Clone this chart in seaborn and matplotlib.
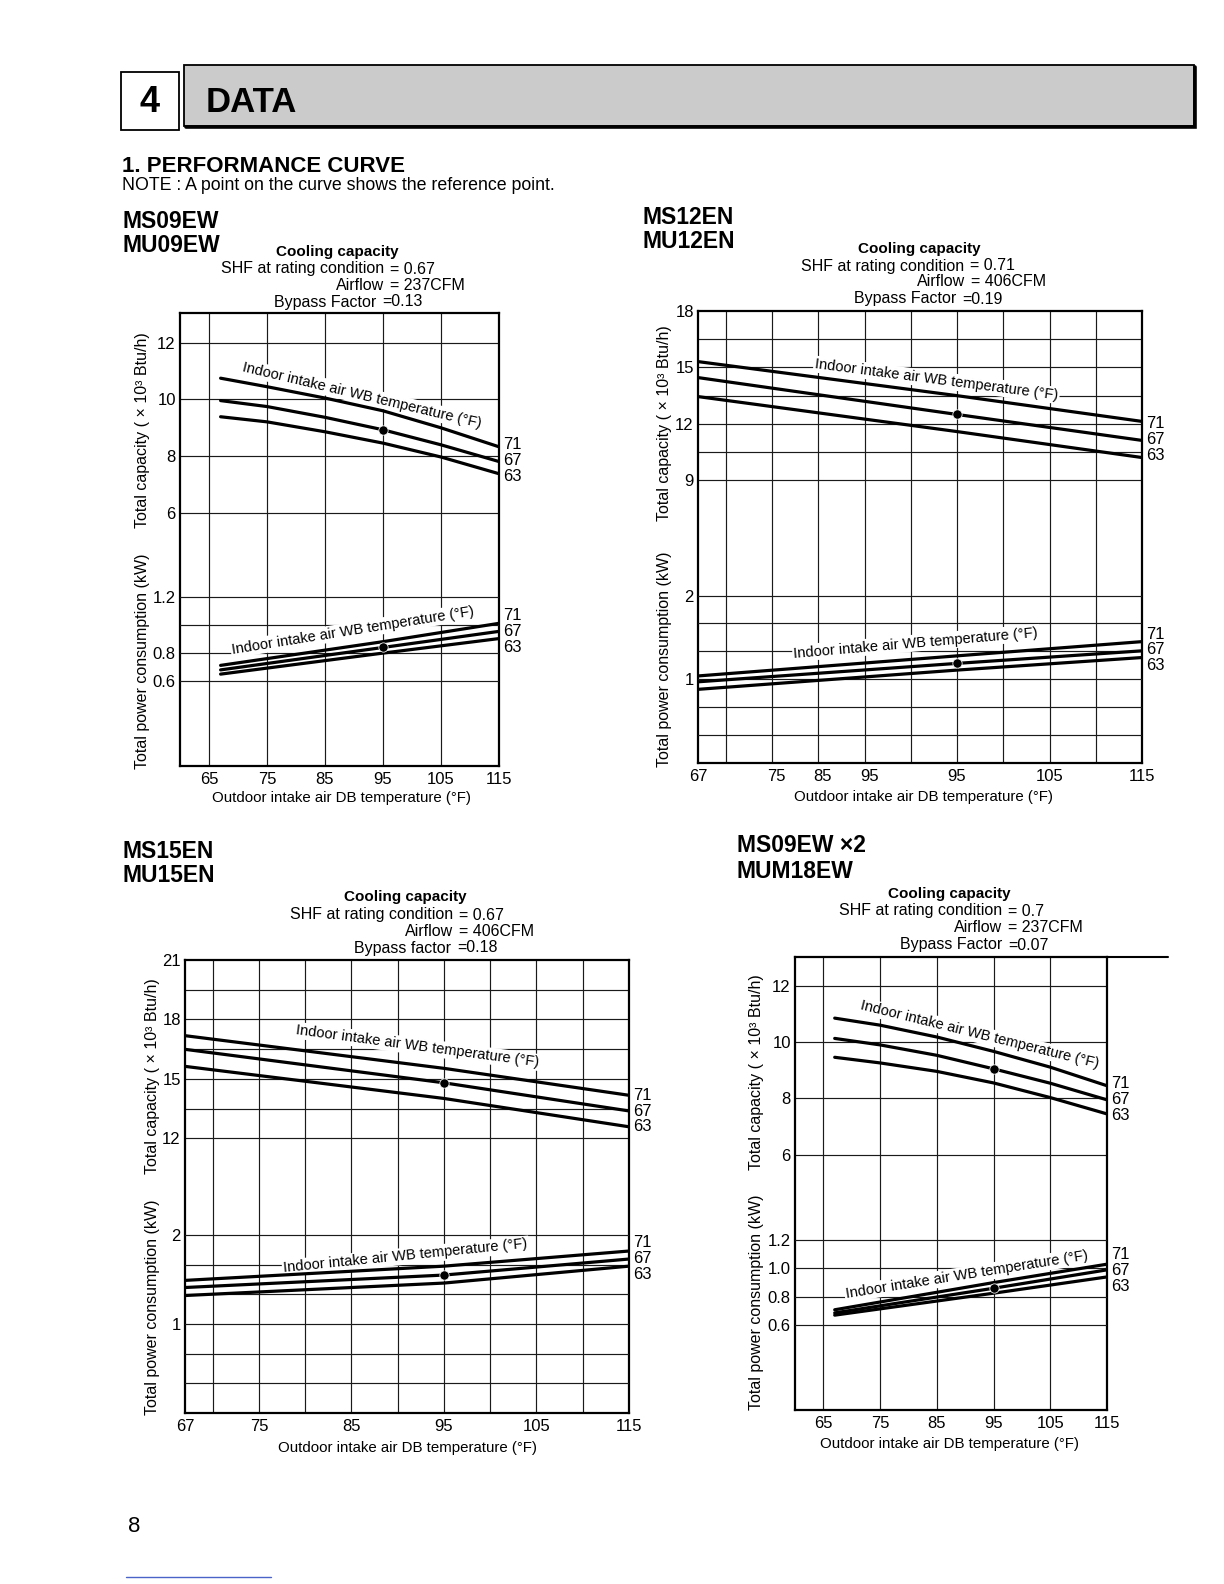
import numpy as np
import pandas as pd
import matplotlib
matplotlib.use("Agg")
import matplotlib.pyplot as plt
import matplotlib.transforms as mtransforms
from matplotlib.patches import Rectangle
import seaborn as sns

# ── Data ───────────────────────────────────────────────
WB = [71, 67, 63]          # indoor intake air WB temperature (°F)
REF_T = 95                 # reference point sits on the 67°F curve at 95°F

# MS09EW / MU09EW
C1_T_CAP = [67, 75, 85, 95, 105, 115]
C1_CAP_71 = [10.75, 10.45, 10.05, 9.60, 9.00, 8.33]
C1_CAP_67 = [9.96, 9.75, 9.37, 8.93, 8.40, 7.81]
C1_CAP_63 = [9.39, 9.21, 8.86, 8.46, 7.97, 7.38]
C1_T_PWR = [67, 95, 115]
C1_PWR_71 = [0.713, 0.881, 1.011]
C1_PWR_67 = [0.681, 0.840, 0.954]
C1_PWR_63 = [0.651, 0.800, 0.903]

# MS12EN / MU12EN
C2_T = [67, 95, 115]
C2_CAP_71 = [15.31, 13.50, 12.13]
C2_CAP_67 = [14.46, 12.50, 11.12]
C2_CAP_63 = [13.45, 11.59, 10.21]
C2_PWR_71 = [1.04, 1.28, 1.45]
C2_PWR_67 = [0.97, 1.19, 1.34]
C2_PWR_63 = [0.88, 1.11, 1.26]

# MS15EN / MU15EN
C3_T = [67, 95, 115]
C3_CAP_71 = [17.18, 15.53, 14.17]
C3_CAP_67 = [16.49, 14.80, 13.38]
C3_CAP_63 = [15.63, 14.01, 12.58]
C3_PWR_71 = [1.49, 1.65, 1.82]
C3_PWR_67 = [1.41, 1.55, 1.73]
C3_PWR_63 = [1.32, 1.46, 1.65]

# MS09EW x2 / MUM18EW
C4_T_CAP = [67, 75, 85, 95, 105, 115]
C4_CAP_71 = [10.85, 10.60, 10.18, 9.67, 9.11, 8.45]
C4_CAP_67 = [10.13, 9.90, 9.53, 9.05, 8.54, 7.95]
C4_CAP_63 = [9.46, 9.26, 8.96, 8.55, 8.03, 7.45]
C4_T_PWR = [67, 95, 115]
C4_PWR_71 = [0.708, 0.900, 1.030]
C4_PWR_67 = [0.686, 0.860, 0.990]
C4_PWR_63 = [0.670, 0.825, 0.940]

# ── Grids and tick labels ──────────────────────────────
GRID_X_WIDE = [65, 75, 85, 95, 105]
GRID_X_FINE = [70, 75, 80, 85, 90, 95, 100, 105, 110]
C1_XTICKS = [65, 75, 85, 95, 105, 115]
C2_XTICKS = [67, 75.5, 80.5, 85.5, 95, 105, 115]
C2_XTICKLABELS = ["67", "75", "85", "95", "95", "105", "115"]   # as printed
C3_XTICKS = [67, 75, 85, 95, 105, 115]
CAP_GRID_SMALL = [6, 8, 10, 12]
CAP_TICKS_SMALL = [6, 8, 10, 12]
PWR_GRID_SMALL = [0.6, 0.8, 1.0, 1.2]
C1_PWR_TICKS = [0.6, 0.8, 1.2]
C4_PWR_TICKS = [0.6, 0.8, 1.0, 1.2]
C2_CAP_GRID = [9, 10.5, 12, 13.5, 15, 16.5]
C2_CAP_TICKS = [9, 12, 15, 18]
C3_CAP_GRID = [12, 13.5, 15, 16.5, 18, 19.5]
C3_CAP_TICKS = [12, 15, 18, 21]
PWR_GRID_THIRDS = [1 / 3, 2 / 3, 1, 4 / 3, 5 / 3, 2]
PWR_TICKS_INT = [1, 2]

C1_RATING = [("SHF at rating condition", "= 0.67"), ("Airflow", "= 237CFM"), ("Bypass Factor", "=0.13")]
C2_RATING = [("SHF at rating condition", "= 0.71"), ("Airflow", "= 406CFM"), ("Bypass Factor", "=0.19")]
C3_RATING = [("SHF at rating condition", "= 0.67"), ("Airflow", "= 406CFM"), ("Bypass factor", "=0.18")]
C4_RATING = [("SHF at rating condition", "= 0.7"), ("Airflow", "= 237CFM"), ("Bypass Factor", "=0.07")]

WB_LABEL = "Indoor intake air WB temperature (°F)"
CAP_LABEL = "Total capacity ( × 10³ Btu/h)"
PWR_LABEL = "Total power consumption (kW)"
X_LABEL = "Outdoor intake air DB temperature (°F)"

# ── Page layout (pixels on a 1224 x 1584 page) ─────────
W, H = 1224, 1584
CHARTS = [
    dict(models=["MS09EW", "MU09EW"], model_xy=(123, 221), cool_xy=(337, 252),
         rating=C1_RATING, eq_x=[390, 390, 382], rating_y=[269, 286, 302],
         box=(180, 313, 499, 766), xlim=(60, 115), cap_lim=(-2.93, 13.05), pwr_lim=(0, 3.21),
         t_cap=C1_T_CAP, cap=[C1_CAP_71, C1_CAP_67, C1_CAP_63],
         t_pwr=C1_T_PWR, pwr=[C1_PWR_71, C1_PWR_67, C1_PWR_63],
         xgrid=GRID_X_WIDE, cap_grid=CAP_GRID_SMALL, pwr_grid=PWR_GRID_SMALL,
         xticks=C1_XTICKS, xticklabels=[str(v) for v in C1_XTICKS],
         cap_ticks=CAP_TICKS_SMALL, pwr_ticks=C1_PWR_TICKS, pwr_fmt="{:.1f}",
         cap_text=((70.7, 11.0), (111.8, 9.0)), pwr_text=((69.1, 0.795), (110.2, 1.065)),
         ylab_x=142, ylab_cap=430, ylab_pwr=661, xlab=(342, 798)),
    dict(models=["MS12EN", "MU12EN"], model_xy=(643, 217), cool_xy=(919, 249),
         rating=C2_RATING, eq_x=[970, 971, 962], rating_y=[266, 282, 299],
         box=(698, 311, 1142, 763), xlim=(67, 115), cap_lim=(-6.03, 18), pwr_lim=(0, 5.4),
         t_cap=C2_T, cap=[C2_CAP_71, C2_CAP_67, C2_CAP_63],
         t_pwr=C2_T, pwr=[C2_PWR_71, C2_PWR_67, C2_PWR_63],
         xgrid=GRID_X_FINE, cap_grid=C2_CAP_GRID, pwr_grid=PWR_GRID_THIRDS,
         xticks=C2_XTICKS, xticklabels=C2_XTICKLABELS,
         cap_ticks=C2_CAP_TICKS, pwr_ticks=PWR_TICKS_INT, pwr_fmt="{:.0f}",
         cap_text=((79.6, 14.97), (105.6, 13.31)), pwr_text=((77.4, 1.26), (103.6, 1.51)),
         ylab_x=665, ylab_cap=423, ylab_pwr=659, xlab=(924, 797)),
    dict(models=["MS15EN", "MU15EN"], model_xy=(123, 851), cool_xy=(405, 897),
         rating=C3_RATING, eq_x=[459, 459, 457], rating_y=[915, 931, 948],
         box=(185, 960, 629, 1413), xlim=(67, 115), cap_lim=(-1.87, 21), pwr_lim=(0, 5.09),
         t_cap=C3_T, cap=[C3_CAP_71, C3_CAP_67, C3_CAP_63],
         t_pwr=C3_T, pwr=[C3_PWR_71, C3_PWR_67, C3_PWR_63],
         xgrid=GRID_X_FINE, cap_grid=C3_CAP_GRID, pwr_grid=PWR_GRID_THIRDS,
         xticks=C3_XTICKS, xticklabels=[str(v) for v in C3_XTICKS],
         cap_ticks=C3_CAP_TICKS, pwr_ticks=PWR_TICKS_INT, pwr_fmt="{:.0f}",
         cap_text=((78.9, 17.26), (104.9, 15.64)), pwr_text=((77.7, 1.58), (103.7, 1.85)),
         ylab_x=153, ylab_cap=1076, ylab_pwr=1307, xlab=(408, 1448)),
    dict(models=["MS09EW ×2", "MUM18EW"], model_xy=(737, 846), cool_xy=(949, 894),
         rating=C4_RATING, eq_x=[1008, 1008, 1008], rating_y=[911, 927, 945],
         box=(795, 957, 1107, 1410), xlim=(60, 115), cap_lim=(-3.06, 13.02), pwr_lim=(0, 3.2),
         t_cap=C4_T_CAP, cap=[C4_CAP_71, C4_CAP_67, C4_CAP_63],
         t_pwr=C4_T_PWR, pwr=[C4_PWR_71, C4_PWR_67, C4_PWR_63],
         xgrid=GRID_X_WIDE, cap_grid=CAP_GRID_SMALL, pwr_grid=PWR_GRID_SMALL,
         xticks=C1_XTICKS, xticklabels=[str(v) for v in C1_XTICKS],
         cap_ticks=CAP_TICKS_SMALL, pwr_ticks=C4_PWR_TICKS, pwr_fmt="{:.1f}",
         cap_text=((71.45, 11.16), (112.6, 9.11)), pwr_text=((69.1, 0.79), (110.7, 1.056)),
         ylab_x=757, ylab_cap=1072, ylab_pwr=1302, xlab=(949, 1444)),
]

GRID_COLOR = "#1a1a1a"
CURVE_LW = 2.3
TICK_FS = 12

sns.set_style("white")
plt.rcParams["font.family"] = ["Liberation Sans", "DejaVu Sans"]
plt.rcParams["text.color"] = "black"
plt.rcParams["xtick.color"] = "black"
plt.rcParams["ytick.color"] = "black"
plt.rcParams["axes.labelcolor"] = "black"


def px_rect(x0, y0, x1, y1):
    return [x0 / W, 1 - y1 / H, (x1 - x0) / W, (y1 - y0) / H]


def curve_frame(t, series):
    rows = []
    for wb, vals in zip(WB, series):
        for tt, v in zip(t, vals):
            rows.append({"T": tt, "val": v, "wb": wb})
    return pd.DataFrame(rows)


def angle_on(axis, p0, p1):
    a = axis.transData.transform(p0)
    b = axis.transData.transform(p1)
    return np.degrees(np.arctan2(b[1] - a[1], b[0] - a[0]))


fig = plt.figure(figsize=(W / 100, H / 100), dpi=100)
fig.patch.set_facecolor("white")

# page canvas in pixel coordinates
pg = fig.add_axes([0, 0, 1, 1])
pg.set_xlim(0, W)
pg.set_ylim(H, 0)
pg.axis("off")

# ── Header ──────────────────────────────────────────────
pg.add_patch(Rectangle((121, 72), 58, 58, fc="white", ec="black", lw=1.3))
pg.text(150, 102, "4", fontsize=26, fontweight="bold", ha="center", va="center")
pg.add_patch(Rectangle((184, 65), 1010, 61, fc="#cbcbcb", ec="black", lw=1.3))
pg.plot([186, 1195, 1195], [127, 127, 67], color="black", lw=2.6, solid_joinstyle="miter")
pg.text(206, 103, "DATA", fontsize=25, fontweight="bold", ha="left", va="center")
pg.text(122, 166, "1. PERFORMANCE CURVE", fontsize=16, fontweight="bold", ha="left", va="center")
pg.text(122, 186, "NOTE : A point on the curve shows the reference point.", fontsize=12.8,
        ha="left", va="center")

# ── Charts ──────────────────────────────────────────────
for spec in CHARTS:
    mx, my = spec["model_xy"]
    for i, name in enumerate(spec["models"]):
        pg.text(mx, my + 25 * i, name, fontsize=16.5, fontweight="bold", ha="left", va="center")
    pg.text(*spec["cool_xy"], "Cooling capacity", fontsize=11, fontweight="bold",
            ha="center", va="center")
    for (left, right), ex, ry in zip(spec["rating"], spec["eq_x"], spec["rating_y"]):
        pg.text(ex - 6, ry, left, fontsize=11.5, ha="right", va="center")
        pg.text(ex, ry, right, fontsize=11.5, ha="left", va="center")

    x0, y0, x1, y1 = spec["box"]
    ax = fig.add_axes(px_rect(x0, y0, x1, y1))
    ax.set_facecolor("white")
    ax2 = ax.twinx()

    cap_df = curve_frame(spec["t_cap"], spec["cap"])
    pwr_df = curve_frame(spec["t_pwr"], spec["pwr"])
    sns.lineplot(data=cap_df, x="T", y="val", units="wb", estimator=None, color="black",
                 lw=CURVE_LW, legend=False, ax=ax, zorder=4)
    sns.lineplot(data=pwr_df, x="T", y="val", units="wb", estimator=None, color="black",
                 lw=CURVE_LW, legend=False, ax=ax2, zorder=4)

    # reference points (67°F curve at 95°F)
    ref_cap = spec["cap"][1][spec["t_cap"].index(REF_T)]
    ref_pwr = spec["pwr"][1][spec["t_pwr"].index(REF_T)]
    sns.scatterplot(x=[REF_T], y=[ref_cap], color="black", s=45, ax=ax, zorder=5)
    sns.scatterplot(x=[REF_T], y=[ref_pwr], color="black", s=45, ax=ax2, zorder=5)

    for v in spec["xgrid"]:
        ax.axvline(v, color=GRID_COLOR, lw=0.85, zorder=1)
    for v in spec["cap_grid"]:
        ax.axhline(v, color=GRID_COLOR, lw=0.85, zorder=1)
    for v in spec["pwr_grid"]:
        ax2.axhline(v, color=GRID_COLOR, lw=0.85, zorder=1)

    ax.set_xlim(*spec["xlim"])
    ax.set_ylim(*spec["cap_lim"])
    ax2.set_ylim(*spec["pwr_lim"])
    for a in (ax, ax2):
        a.set_xlabel("")
        a.set_ylabel("")

    ax.set_xticks(spec["xticks"], labels=spec["xticklabels"])
    ax.set_yticks(spec["cap_ticks"], labels=[str(v) for v in spec["cap_ticks"]])
    ax2.set_yticks(spec["pwr_ticks"], labels=[spec["pwr_fmt"].format(v) for v in spec["pwr_ticks"]])
    ax2.yaxis.tick_left()
    ax.tick_params(axis="x", length=0, pad=4, labelsize=TICK_FS)
    ax.tick_params(axis="y", length=0, pad=3, labelsize=TICK_FS)
    ax2.tick_params(axis="y", length=0, pad=3, labelsize=TICK_FS)

    for s in ax.spines.values():
        s.set_visible(True)
        s.set_color("black")
        s.set_linewidth(1.6)
    for s in ax2.spines.values():
        s.set_visible(False)

    # slanted "Indoor intake air WB temperature" notes
    for axis, (p0, p1) in ((ax, spec["cap_text"]), (ax2, spec["pwr_text"])):
        ang = angle_on(axis, p0, p1)
        axis.text(p0[0], p0[1], WB_LABEL, rotation=ang, rotation_mode="anchor",
                  ha="left", va="baseline", fontsize=10.5, zorder=3,
                  bbox=dict(boxstyle="square,pad=0.1", fc="white", ec="none"))

    # 71 / 67 / 63 labels at the right end of each group
    for axis, series in ((ax, spec["cap"]), (ax2, spec["pwr"])):
        trans = mtransforms.blended_transform_factory(axis.transAxes, axis.transData)
        mid = np.mean([s[-1] for s in series])
        for i, wb in enumerate(WB):
            axis.annotate(str(wb), xy=(1, mid), xycoords=trans, xytext=(3, (1 - i) * 11.5),
                          textcoords="offset points", ha="left", va="center", fontsize=TICK_FS,
                          annotation_clip=False)

    pg.text(spec["ylab_x"], spec["ylab_cap"], CAP_LABEL, rotation=90, fontsize=11.5,
            ha="center", va="center")
    pg.text(spec["ylab_x"], spec["ylab_pwr"], PWR_LABEL, rotation=90, fontsize=11.5,
            ha="center", va="center")
    pg.text(*spec["xlab"], X_LABEL, fontsize=10.8, ha="center", va="center")

# stray top rule to the right of the last chart, page number, link line
pg.plot([1107, 1168], [957, 957], color="black", lw=1.5)
pg.text(128, 1527, "8", fontsize=16, ha="left", va="center")
pg.plot([126, 271], [1577, 1577], color="#4a63c8", lw=1.0)

fig.savefig("out.png", dpi=100, facecolor="white")
